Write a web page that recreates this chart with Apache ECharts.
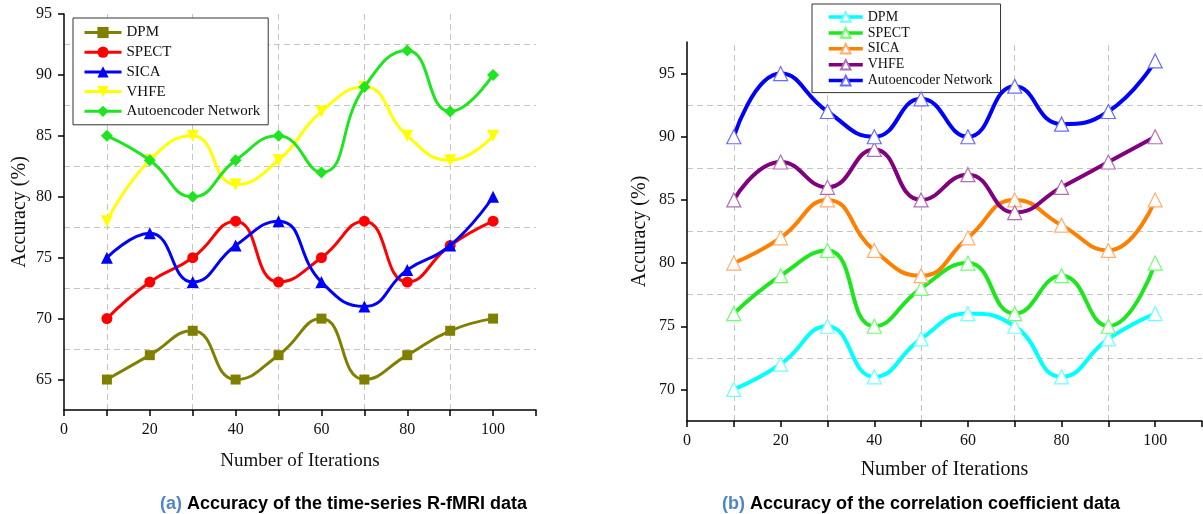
<!DOCTYPE html>
<html>
<head>
<meta charset="utf-8">
<script src="https://cdn.jsdelivr.net/npm/echarts@6/dist/echarts.min.js"></script>
<style>html,body{margin:0;padding:0;background:#fff}#c{width:1203px;height:514px}</style>
</head>
<body>
<div id="c"></div>
<script>
// ---- data ----
const iterations = [10, 20, 30, 40, 50, 60, 70, 80, 90, 100];
const methodNames = ['DPM', 'SPECT', 'SICA', 'VHFE', 'Autoencoder Network'];

// (a) time-series R-fMRI data
const aDPM   = [65, 67, 69, 65, 67, 70, 65, 67, 69, 70];
const aSPECT = [70, 73, 75, 78, 73, 75, 78, 73, 76, 78];
const aSICA  = [75, 77, 73, 76, 78, 73, 71, 74, 76, 80];
const aVHFE  = [78, 83, 85, 81, 83, 87, 89, 85, 83, 85];
const aAuto  = [85, 83, 80, 83, 85, 82, 89, 92, 87, 90];

// (b) correlation coefficient data
const bDPM   = [70, 72, 75, 71, 74, 76, 75, 71, 74, 76];
const bSPECT = [76, 79, 81, 75, 78, 80, 76, 79, 75, 80];
const bSICA  = [80, 82, 85, 81, 79, 82, 85, 83, 81, 85];
const bVHFE  = [85, 88, 86, 89, 85, 87, 84, 86, 88, 90];
const bAuto  = [90, 95, 92, 90, 93, 90, 94, 91, 92, 96];

// axis ticks / labels / grid lines
const xTickLabels = [0, 20, 40, 60, 80, 100];
const aYTickLabels = [65, 70, 75, 80, 85, 90, 95];
const bYTickLabels = [70, 75, 80, 85, 90, 95];
const xGridValues = [10, 30, 50, 70, 90];
const aYGridValues = [67.5, 72.5, 77.5, 82.5, 87.5, 92.5];
const bYGridValues = [72.5, 77.5, 82.5, 87.5, 92.5];

const captionA = ['(a)', ' Accuracy of the time-series R-fMRI data'];
const captionB = ['(b)', ' Accuracy of the correlation coefficient data'];

// ---- styles ----
const serif = 'Liberation Serif';
const sans = 'Liberation Sans';
const aColors = ['#808000', '#ff0000', '#0000ff', '#ffff00', '#1ee61e'];
const aSymbols = ['rect', 'circle', 'triangle', 'path://M0,0 L20,0 L10,17 Z', 'diamond'];
const aSymbolSizes = [10, 11, 12, 12, 12];
const bColors = ['#00ffff', '#1ee61e', '#ff8000', '#800080', '#0000ff'];
const bBorder = ['#70ffff', '#70ff70', '#ffb070', '#b070b0', '#6a6aff'];

const pairs = arr => arr.map((v, i) => [iterations[i], v]);
const aData = [aDPM, aSPECT, aSICA, aVHFE, aAuto];
const bData = [bDPM, bSPECT, bSICA, bVHFE, bAuto];

const gridLineStyle = { type: [6, 4], color: '#c4c4c4', width: 1 };
function gridMarkLine(yVals) {
  return {
    silent: true, symbol: ['none', 'none'], label: { show: false },
    lineStyle: gridLineStyle, animation: false, z: 0,
    emphasis: { disabled: true },
    data: xGridValues.map(v => ({ xAxis: v })).concat(yVals.map(v => ({ yAxis: v })))
  };
}

const series = [];
aData.forEach((arr, k) => {
  const s = {
    name: methodNames[k], type: 'line', xAxisIndex: 0, yAxisIndex: 0,
    data: pairs(arr), smooth: 0.5,
    symbol: aSymbols[k], symbolSize: aSymbolSizes[k],
    lineStyle: { color: aColors[k], width: 3 },
    itemStyle: { color: aColors[k] },
    z: 3 + k
  };
  if (k === 0) s.markLine = gridMarkLine(aYGridValues);
  series.push(s);
});
bData.forEach((arr, k) => {
  const s = {
    name: 'b:' + methodNames[k], type: 'line', xAxisIndex: 1, yAxisIndex: 1,
    data: pairs(arr), smooth: 0.5,
    symbol: 'triangle', symbolSize: 14,
    lineStyle: { color: bColors[k], width: 4 },
    itemStyle: { color: '#ffffff', borderColor: bBorder[k], borderWidth: 1.2 },
    z: 3 + k
  };
  if (k === 0) s.markLine = gridMarkLine(bYGridValues);
  series.push(s);
});

function xAxisDef(gridIndex, nameGap, nameSize) {
  return {
    type: 'value', gridIndex, min: 0, max: 110, interval: 10,
    name: 'Number of Iterations', nameLocation: 'middle', nameGap,
    nameTextStyle: { fontFamily: serif, fontSize: nameSize, color: '#111' },
    axisLine: { show: true, onZero: false, lineStyle: { color: '#000', width: 1.5 } },
    axisTick: { show: true, length: 6, lineStyle: { color: '#000', width: 1.5 } },
    axisLabel: {
      fontFamily: serif, fontSize: 16, color: '#111', margin: 12,
      customValues: xTickLabels,
      formatter: v => (xTickLabels.indexOf(v) >= 0 ? String(v) : '')
    },
    splitLine: { show: false }
  };
}
function yAxisDef(gridIndex, min, max, labels, nameGap, nameSize) {
  return {
    type: 'value', gridIndex, min, max, interval: 2.5,
    name: 'Accuracy (%)', nameLocation: 'middle', nameGap,
    nameTextStyle: { fontFamily: serif, fontSize: nameSize, color: '#111' },
    axisLine: { show: true, onZero: false, lineStyle: { color: '#000', width: 1.5 } },
    axisTick: { show: true, length: 6, customValues: labels, lineStyle: { color: '#000', width: 1.5 } },
    axisLabel: {
      fontFamily: serif, fontSize: 16, color: '#111', margin: 12,
      customValues: labels,
      formatter: v => (labels.indexOf(v) >= 0 ? String(v) : '')
    },
    splitLine: { show: false }
  };
}

const captionRich = {
  a: { color: '#4f86c6', fontWeight: 'bold', fontSize: 18, fontFamily: sans },
  b: { color: '#000', fontWeight: 'bold', fontSize: 18, fontFamily: sans }
};

const chart = echarts.init(document.getElementById('c'), null, { renderer: 'canvas' });
chart.setOption({
  backgroundColor: '#ffffff',
  animation: false,
  grid: [
    { left: 64, top: 14, width: 472, height: 396 },
    { left: 687, top: 42, width: 515, height: 379 }
  ],
  xAxis: [xAxisDef(0, 42, 19), xAxisDef(1, 39, 20)],
  yAxis: [yAxisDef(0, 62.5, 95, aYTickLabels, 34, 20), yAxisDef(1, 67.5, 97.5, bYTickLabels, 37, 20)],
  legend: [
    {
      left: 73, top: 18, orient: 'vertical', selectedMode: false,
      data: methodNames.slice(),
      itemWidth: 37, itemHeight: 14, itemGap: 4.7,
      padding: [7, 8, 6, 10],
      lineStyle: { width: 3 },
      borderColor: '#333', borderWidth: 1, backgroundColor: '#fff',
      textStyle: { fontFamily: serif, fontSize: 15, lineHeight: 14, color: '#111' }
    },
    {
      left: 812, top: 4, orient: 'vertical', selectedMode: false,
      data: methodNames.map(n => 'b:' + n),
      formatter: n => n.slice(2),
      itemWidth: 34, itemHeight: 12, itemGap: 1.9,
      padding: [6, 8, 5, 15],
      lineStyle: { width: 3.5 },
      borderColor: '#333', borderWidth: 1, backgroundColor: '#fff',
      textStyle: { fontFamily: serif, fontSize: 14, lineHeight: 12, color: '#111' }
    }
  ],
  title: [
    { left: 155, top: 490, text: '{a|' + captionA[0] + '}{b|' + captionA[1] + '}', textStyle: { rich: captionRich } },
    { left: 717, top: 490, text: '{a|' + captionB[0] + '}{b|' + captionB[1] + '}', textStyle: { rich: captionRich } }
  ],
  series
});
</script>
</body>
</html>
